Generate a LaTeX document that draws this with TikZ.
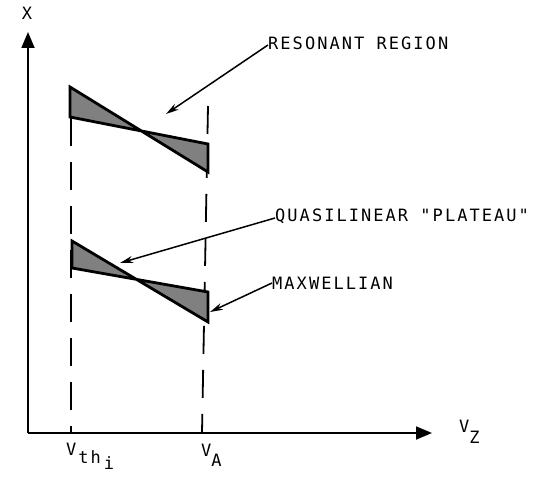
\documentclass[tikz,border=0pt]{standalone}
\usepackage{fontspec}
\usetikzlibrary{arrows.meta}
\newfontfamily\labelfont{DejaVu Sans Mono}[LetterSpace=12]

\tikzset{
  axis/.style={line width=1.8pt, -{Triangle[length=16pt,width=13pt]}},
  guide/.style={line width=1.8pt, dash pattern=on 28pt off 16pt},
  band/.style={fill=black!50, draw, line width=2.8pt, line join=miter},
  leader/.style={line width=1.5pt, -{Stealth[length=13pt,width=7pt]}},
  lbl/.style={font=\labelfont\fontsize{17}{17}\selectfont, inner sep=0pt, anchor=west},
}

\begin{document}
\begin{tikzpicture}[x=1pt, y=-1pt]
    \useasboundingbox (0,0) rectangle (543,478);
    % axes
    \coordinate (O) at (28,433);
    \draw[axis] (O) -- (432,433) coordinate (xend);
    \draw[axis] (O) -- (28,32) coordinate (yend);
    \node[lbl, anchor=center] (xlab) at (27,13) {X};
    \node[lbl] (vz) at (459,432) {V\raisebox{-11pt}{Z}};
    % guide lines at v_th and v_A
    \coordinate (vth) at (71,433); \coordinate (va) at (202,433);
    \draw[guide] (71,118) -- (vth);
    \draw[guide] (208,106) -- (va);
    \node[lbl] (vthlab) at (66,456) {V\hspace{2pt}\raisebox{-8pt}{th\hspace{3pt}\raisebox{-6pt}{i}}};
    \node[lbl] (valab) at (201,455) {V\raisebox{-10pt}{A}};
    % distribution bands
    \draw[band] (70,87) -- (208,172) -- (208,144) -- (70,117) -- cycle;
    \draw[band] (72,241) -- (208,322) -- (208,292) -- (72,268) -- cycle;
    % labels with leaders
    \node[lbl] (res) at (268,43) {RESONANT REGION};
    \node[lbl] (plat) at (275,216) {QUASILINEAR "PLATEAU"};
    \node[lbl] (maxw) at (272,283) {MAXWELLIAN};
    \coordinate (restip) at (166,114);
    \coordinate (plattip) at (120,263);
    \coordinate (maxwtip) at (210,312);
    \draw[leader] ([yshift=-2pt]res.west) -- (restip);
    \draw[leader] ([yshift=-2pt]plat.west) -- (plattip);
    \draw[leader] (maxw.west) -- (maxwtip);
\end{tikzpicture}
\end{document}
